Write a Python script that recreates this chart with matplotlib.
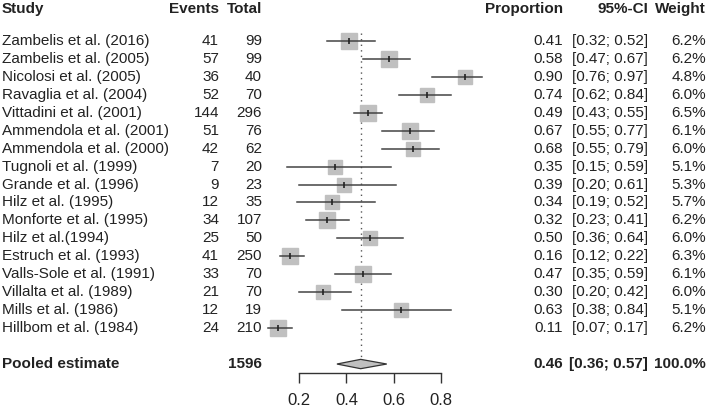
import numpy as np
import matplotlib
matplotlib.use("Agg")
import matplotlib.pyplot as plt
from matplotlib.transforms import blended_transform_factory

plt.rcParams['font.family'] = ['Liberation Sans', 'DejaVu Sans']

# study-level data
studies = ["Zambelis et al. (2016)", "Zambelis et al. (2005)", "Nicolosi et al. (2005)",
           "Ravaglia et al. (2004)", "Vittadini et al. (2001)", "Ammendola et al. (2001)",
           "Ammendola et al. (2000)", "Tugnoli et al. (1999)", "Grande et al. (1996)",
           "Hilz et al. (1995)", "Monforte et al. (1995)", "Hilz et al.(1994)",
           "Estruch et al. (1993)", "Valls-Sole et al. (1991)", "Villalta et al. (1989)",
           "Mills et al. (1986)", "Hillbom et al. (1984)"]
events = [41, 57, 36, 52, 144, 51, 42, 7, 9, 12, 34, 25, 41, 33, 21, 12, 24]
totals = [99, 99, 40, 70, 296, 76, 62, 20, 23, 35, 107, 50, 250, 70, 70, 19, 210]
props = [0.41, 0.58, 0.90, 0.74, 0.49, 0.67, 0.68, 0.35, 0.39, 0.34, 0.32, 0.50, 0.16, 0.47, 0.30, 0.63, 0.11]
lower = [0.32, 0.47, 0.76, 0.62, 0.43, 0.55, 0.55, 0.15, 0.20, 0.19, 0.23, 0.36, 0.12, 0.35, 0.20, 0.38, 0.07]
upper = [0.52, 0.67, 0.97, 0.84, 0.55, 0.77, 0.79, 0.59, 0.61, 0.52, 0.41, 0.64, 0.22, 0.59, 0.42, 0.84, 0.17]
weights = [6.2, 6.2, 4.8, 6.0, 6.5, 6.1, 6.0, 5.1, 5.3, 5.7, 6.2, 6.0, 6.3, 6.1, 6.0, 5.1, 6.2]

# pooled estimate
pooled_total = 1596
pooled_est, pooled_lo, pooled_hi = 0.46, 0.36, 0.57

xticks = [0.2, 0.4, 0.6, 0.8]

fig = plt.figure(figsize=(7.08, 4.08), dpi=100)
ax = fig.add_axes([299 / 708, 35 / 408, 142.3 / 708, 373 / 408])
ax.set_xlim(0.2, 0.8)
ax.set_ylim(18.5, -41 / 18)

n = len(studies)
rows = np.arange(n)
pooled_row = 18

# dotted line at pooled estimate
ax.plot([pooled_est, pooled_est], [-0.45, 18.2], color='#555555', lw=1.0,
        ls=(0, (1, 3)), clip_on=False, zorder=1)

# squares + CIs
for i in range(n):
    ax.plot([lower[i], upper[i]], [rows[i], rows[i]], color='#444444', lw=1.1,
            clip_on=False, zorder=3)
    ms = 11.2 * np.sqrt(weights[i] / 6.5)
    ax.plot(props[i], rows[i], marker='s', ms=ms, color='#c0c0c0', mec='#c0c0c0',
            clip_on=False, zorder=2)
    ax.plot(props[i], rows[i], marker='|', ms=4, mew=1.2, color='#222222',
            clip_on=False, zorder=4)

# diamond
ax.fill([pooled_lo, pooled_est, pooled_hi, pooled_est],
        [pooled_row, pooled_row - 0.26, pooled_row, pooled_row + 0.26],
        facecolor='#c0c0c0', edgecolor='#333333', lw=0.9, clip_on=False, zorder=3)

# axis styling
for s in ['top', 'right', 'left']:
    ax.spines[s].set_visible(False)
ax.spines['bottom'].set_color('#333333')
ax.spines['bottom'].set_linewidth(1.0)
ax.set_yticks([])
ax.set_xticks(xticks)
ax.set_xticklabels([str(t) for t in xticks])
ax.tick_params(axis='x', direction='out', length=7.2, width=1.0, color='#333333',
               labelsize=12, pad=7, labelcolor='#222222')
ax.patch.set_visible(False)

# text columns
tr = blended_transform_factory(fig.transFigure, ax.transData)
fs = 11
tc = '#222222'
hy = -1.78
ax.text(2 / 708, hy, "Study", transform=tr, ha='left', va='center', fontsize=fs, fontweight='bold', color=tc)
ax.text(219 / 708, hy, "Events", transform=tr, ha='right', va='center', fontsize=fs, fontweight='bold', color=tc)
ax.text(262 / 708, hy, "Total", transform=tr, ha='right', va='center', fontsize=fs, fontweight='bold', color=tc)
ax.text(563 / 708, hy, "Proportion", transform=tr, ha='right', va='center', fontsize=fs, fontweight='bold', color=tc)
ax.text(648 / 708, hy, "95%-CI", transform=tr, ha='right', va='center', fontsize=fs, fontweight='bold', color=tc)
ax.text(706 / 708, hy, "Weight", transform=tr, ha='right', va='center', fontsize=fs, fontweight='bold', color=tc)

for i in range(n):
    y = rows[i]
    ax.text(2 / 708, y, studies[i], transform=tr, ha='left', va='center', fontsize=fs, color=tc)
    ax.text(219 / 708, y, str(events[i]), transform=tr, ha='right', va='center', fontsize=fs, color=tc)
    ax.text(262 / 708, y, str(totals[i]), transform=tr, ha='right', va='center', fontsize=fs, color=tc)
    ax.text(563 / 708, y, f"{props[i]:.2f}", transform=tr, ha='right', va='center', fontsize=fs, color=tc)
    ax.text(648 / 708, y, f"[{lower[i]:.2f}; {upper[i]:.2f}]", transform=tr, ha='right', va='center', fontsize=fs, color=tc)
    ax.text(706 / 708, y, f"{weights[i]:.1f}%", transform=tr, ha='right', va='center', fontsize=fs, color=tc)

py = pooled_row
ax.text(2 / 708, py, "Pooled estimate", transform=tr, ha='left', va='center', fontsize=fs, fontweight='bold', color=tc)
ax.text(262 / 708, py, str(pooled_total), transform=tr, ha='right', va='center', fontsize=fs, fontweight='bold', color=tc)
ax.text(563 / 708, py, f"{pooled_est:.2f}", transform=tr, ha='right', va='center', fontsize=fs, fontweight='bold', color=tc)
ax.text(648 / 708, py, f"[{pooled_lo:.2f}; {pooled_hi:.2f}]", transform=tr, ha='right', va='center', fontsize=fs, fontweight='bold', color=tc)
ax.text(706 / 708, py, "100.0%", transform=tr, ha='right', va='center', fontsize=fs, fontweight='bold', color=tc)

fig.savefig("out.png", dpi=100)
